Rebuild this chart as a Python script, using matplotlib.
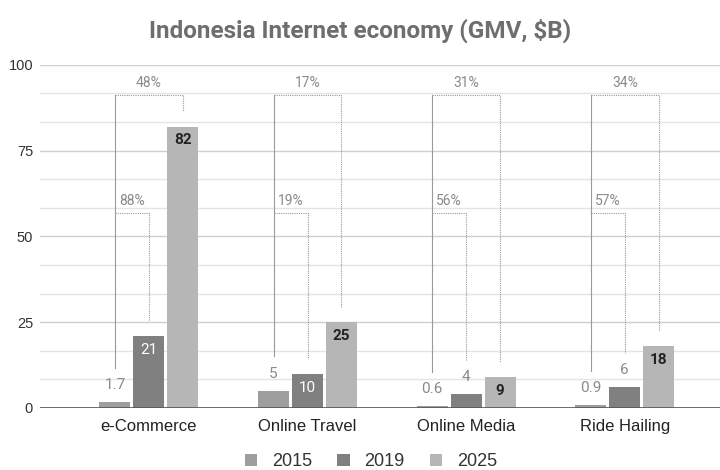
import numpy as np
import matplotlib.pyplot as plt
from matplotlib.ticker import MultipleLocator

categories = ["e-Commerce", "Online Travel", "Online Media", "Ride Hailing"]
years = ["2015", "2019", "2025"]
gmv_2015 = [1.7, 5, 0.6, 0.9]
gmv_2019 = [21, 10, 4, 6]
gmv_2025 = [82, 25, 9, 18]
cagr_15_19 = ["88%", "19%", "56%", "57%"]
cagr_19_25 = ["48%", "17%", "31%", "34%"]

series = [gmv_2015, gmv_2019, gmv_2025]
colors = ["#9e9e9e", "#808080", "#b6b6b6"]

plt.rcParams['font.family'] = ['Roboto', 'DejaVu Sans']
arial = ['Liberation Sans', 'DejaVu Sans']
fig = plt.figure(figsize=(7.2, 4.7), dpi=100)
ax = fig.add_axes([0.0556, 0.132, 0.9444, 0.73])

x = np.arange(len(categories))
w = 0.195
step = 0.214

# barras
for i, (vals, col, yr) in enumerate(zip(series, colors, years)):
    xs = x + (i - 1) * step
    ax.bar(xs, vals, width=w, color=col, label=yr, zorder=3)
    for xi, v in zip(xs, vals):
        if i == 0 or (i == 1 and v < 9):
            ax.text(xi, v + 3, f"{v:g}", ha='center', va='bottom',
                    fontsize=11, color='#8a8a8a', zorder=4)
        elif i == 1:
            ax.text(xi, v - 2, f"{v:g}", ha='center', va='top',
                    fontsize=11, color='white', zorder=4)
        else:
            ax.text(xi, v - 2, f"{v:g}", ha='center', va='top',
                    fontsize=11, color='#222222', fontweight='bold', zorder=4)

# corchetes de crecimiento
top_hi = 91.3
top_lo = 56.9
lc = '#9a9a9a'
for k in range(len(categories)):
    x0 = x[k] - step
    x1 = x[k]
    x2 = x[k] + step
    b0 = gmv_2015[k] + 10
    b1 = gmv_2019[k] + (4.5 if gmv_2019[k] >= 9 else 10)
    b2 = gmv_2025[k] + 4.5
    ax.plot([x0, x0], [b0, top_hi], color=lc, lw=0.8, zorder=2)
    ax.plot([x0, x2, x2], [top_hi, top_hi, b2], color=lc, lw=0.8,
            ls=(0, (1, 1)), zorder=2)
    ax.plot([x0, x1, x1], [top_lo, top_lo, b1], color=lc, lw=0.8,
            ls=(0, (1, 1)), zorder=2)
    ax.text(x1, top_hi + 1.5, cagr_19_25[k], ha='center', va='bottom',
            fontsize=10, color='#8a8a8a')
    ax.text((x0 + x1) / 2, top_lo + 1.5, cagr_15_19[k], ha='center',
            va='bottom', fontsize=10, color='#8a8a8a')

ax.set_xlim(-0.686, 3.60)
ax.set_ylim(0, 100)
ax.yaxis.set_major_locator(MultipleLocator(25))
ax.yaxis.set_minor_locator(MultipleLocator(25 / 3))
ax.grid(axis='y', which='major', color='#cfcfcf', lw=1, zorder=0)
ax.grid(axis='y', which='minor', color='#e4e4e4', lw=1, zorder=0)
ax.axhline(0, color='#555555', lw=1.2, zorder=5)
for s in ax.spines.values():
    s.set_visible(False)
ax.tick_params(axis='both', which='both', length=0)
ax.tick_params(axis='y', labelsize=10.5, labelcolor='#333333', pad=5)
ax.tick_params(axis='x', labelsize=12, labelcolor='#222222', pad=8)
ax.set_xticks(x)
ax.set_xticklabels(categories, family=arial)
for t in ax.get_yticklabels():
    t.set_family(arial)

fig.suptitle("Indonesia Internet economy (GMV, $B)", fontsize=17.5,
             fontweight='bold', color='#6e6e6e', y=0.96)

fig.legend(loc='lower center', bbox_to_anchor=(0.515, -0.035), ncol=3,
           frameon=False, prop={'family': arial, 'size': 13},
           handlelength=0.7, handleheight=0.7,
           columnspacing=1.4, handletextpad=0.8, labelcolor='#333333')

fig.savefig("out.png", dpi=100)
